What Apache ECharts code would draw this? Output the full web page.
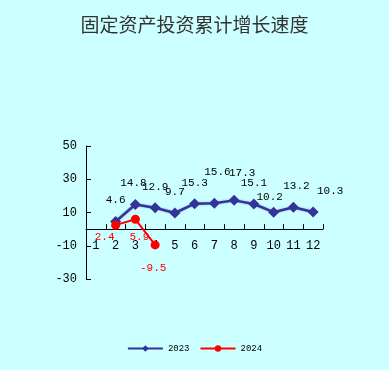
<!DOCTYPE html>
<html>
<head>
<meta charset="utf-8">
<script src="https://cdn.jsdelivr.net/npm/echarts@6/dist/echarts.min.js"></script>
<style>
html,body{margin:0;padding:0;background:#ccffff;}
#chart{width:389px;height:370px;}
</style>
</head>
<body>
<div id="chart"></div>
<script>
var titleText = '固定资产投资累计增长速度';
var months = ['1','2','3','4','5','6','7','8','9','10','11','12'];
var seriesNames = ['2023','2024'];
var values2023 = [null, 4.6, 14.8, 12.9, 9.7, 15.3, 15.6, 17.3, 15.1, 10.2, 13.2, 10.3];
var values2024 = [null, 2.4, 5.9, -9.5, null, null, null, null, null, null, null, null];
var yTicks = { min: -30, max: 50, interval: 20 };

// label nudges (styling only)
var offsets2023 = [[0,0],[0,0],[-2,0],[0,0],[0,0],[0,0],[3,-10],[8,-6],[0,0],[-4,6],[3,0],[17,0]];
var offsets2024 = [[0,0],[-11,0],[4,6],[-2,11],[0,0],[0,0],[0,0],[0,0],[0,0],[0,0],[0,0],[0,0]];

function withOffsets(vals, offs) {
  return vals.map(function (v, i) {
    if (v === null) return null;
    return { value: v, label: { offset: offs[i] } };
  });
}

var gridTop = 146, gridBottom = 91, chartH = 370;
var plotH = chartH - gridTop - gridBottom;
// shift the category axis up to the zero line
var zeroShift = -plotH * (0 - yTicks.min) / (yTicks.max - yTicks.min);

var chart = echarts.init(document.getElementById('chart'), null, { renderer: 'canvas' });
var monoFont = '"Liberation Mono", "DejaVu Sans Mono", monospace';
chart.setOption({
  backgroundColor: '#ccffff',
  animation: false,
  title: {
    text: titleText,
    left: 'center',
    top: 10,
    textStyle: { fontSize: 19, fontWeight: 'normal', color: '#333333', fontFamily: '"Noto Sans CJK SC", sans-serif' }
  },
  legend: {
    data: seriesNames,
    bottom: 12,
    left: 'center',
    itemWidth: 35,
    itemHeight: 8,
    itemGap: 10,
    textStyle: { fontSize: 9, color: '#000', fontFamily: monoFont }
  },
  grid: { left: 86, right: 66, top: gridTop, bottom: gridBottom },
  xAxis: {
    type: 'category',
    data: months,
    boundaryGap: true,
    position: 'bottom',
    offset: zeroShift,
    axisLine: { onZero: false, lineStyle: { color: '#000', width: 1 } },
    axisTick: { show: true, inside: true, length: 5, lineStyle: { color: '#000' } },
    axisLabel: { margin: 11, color: '#000', fontSize: 12, fontFamily: monoFont, interval: 0 },
    splitLine: { show: false }
  },
  yAxis: {
    type: 'value',
    min: yTicks.min,
    max: yTicks.max,
    interval: yTicks.interval,
    axisLine: { show: true, lineStyle: { color: '#000', width: 1 } },
    axisTick: { show: true, inside: true, length: 5, lineStyle: { color: '#000' } },
    axisLabel: { margin: 9, color: '#000', fontSize: 12, fontFamily: monoFont },
    splitLine: { show: false }
  },
  series: [
    {
      name: seriesNames[0],
      type: 'line',
      data: withOffsets(values2023, offsets2023),
      symbol: 'diamond',
      symbolSize: 11,
      itemStyle: { color: '#333399' },
      lineStyle: { color: '#333399', width: 2.5, shadowColor: 'rgba(102,102,204,0.6)', shadowBlur: 2 },
      label: { show: true, position: 'top', distance: 10, color: '#000', fontSize: 11, fontFamily: monoFont }
    },
    {
      name: seriesNames[1],
      type: 'line',
      data: withOffsets(values2024, offsets2024),
      symbol: 'circle',
      symbolSize: 9,
      itemStyle: { color: '#ff0000' },
      lineStyle: { color: '#ff0000', width: 2 },
      label: { show: true, position: 'bottom', distance: 2, color: '#ff0000', fontSize: 11, fontFamily: monoFont }
    }
  ]
});
</script>
</body>
</html>
